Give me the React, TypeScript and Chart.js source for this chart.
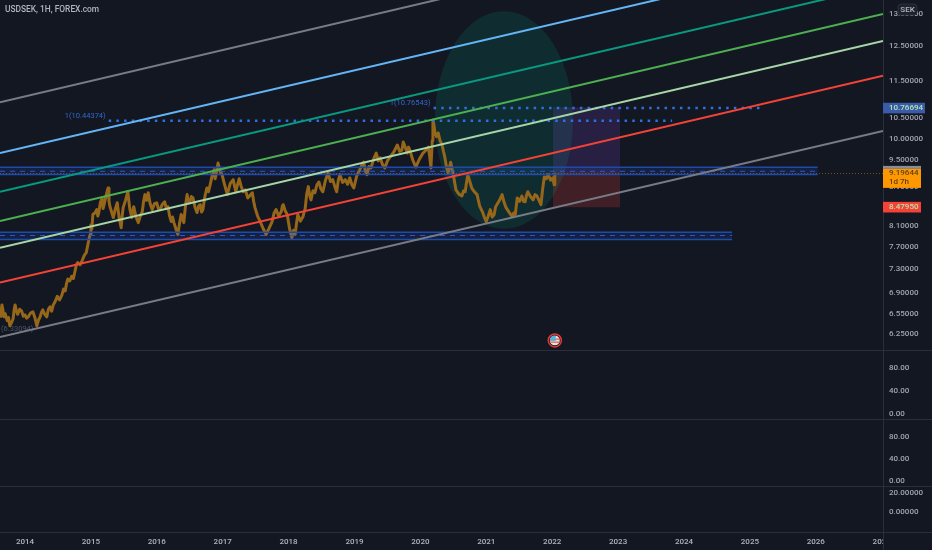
import React, { useEffect, useRef } from "react";
import { Chart, registerables } from "chart.js";

Chart.register(...registerables);

const FONT = "Roboto, sans-serif";
const BG = "#131722";
const AXIS_TEXT = "#a3a6af";
const PANE_LINE = "#2a2e39";

const X_MIN = 2013.621;
const X_MAX = 2027.02;

const yearTicks = [2014, 2015, 2016, 2017, 2018, 2019, 2020, 2021, 2022, 2023, 2024, 2025, 2026, 2027];
const priceTicks = [13.5, 12.5, 11.5, 10.5, 10, 9.5, 8.9, 8.5, 8.1, 7.7, 7.3, 6.9, 6.55, 6.25];
const osc1Ticks = [80, 40, 0];
const osc2Ticks = [80, 40, 0];
const osc3Ticks = [20, 0];

const priceYears = [
  2013.62, 2013.635, 2013.65, 2013.665, 2013.68, 2013.7, 2013.73, 2013.75, 2013.77, 2013.8,
  2013.82, 2013.835, 2013.85, 2013.87, 2013.89, 2013.92, 2013.95, 2013.975, 2014.0, 2014.025,
  2014.05, 2014.085, 2014.12, 2014.15, 2014.18, 2014.205, 2014.23, 2014.25, 2014.27, 2014.3,
  2014.33, 2014.355, 2014.38, 2014.405, 2014.43, 2014.46, 2014.49, 2014.525, 2014.56, 2014.585,
  2014.61, 2014.63, 2014.65, 2014.68, 2014.71, 2014.735, 2014.76, 2014.78, 2014.8, 2014.835,
  2014.87, 2014.9, 2014.93, 2014.95, 2014.97, 2014.98, 2014.99, 2015.0, 2015.015, 2015.03,
  2015.06, 2015.09, 2015.105, 2015.12, 2015.145, 2015.17, 2015.185, 2015.2, 2015.23, 2015.26,
  2015.275, 2015.29, 2015.315, 2015.34, 2015.37, 2015.4, 2015.43, 2015.46, 2015.475, 2015.49,
  2015.525, 2015.56, 2015.59, 2015.62, 2015.635, 2015.65, 2015.685, 2015.72, 2015.75, 2015.78,
  2015.8, 2015.82, 2015.845, 2015.87, 2015.9, 2015.93, 2015.965, 2016.0, 2016.025, 2016.05,
  2016.085, 2016.12, 2016.145, 2016.17, 2016.195, 2016.22, 2016.24, 2016.26, 2016.29, 2016.32,
  2016.345, 2016.37, 2016.39, 2016.41, 2016.435, 2016.46, 2016.48, 2016.5, 2016.525, 2016.55,
  2016.58, 2016.61, 2016.635, 2016.66, 2016.68, 2016.7, 2016.73, 2016.76, 2016.785, 2016.81,
  2016.84, 2016.87, 2016.885, 2016.9, 2016.915, 2016.93, 2016.96, 2016.99, 2017.03, 2017.07,
  2017.115, 2017.16, 2017.18, 2017.2, 2017.225, 2017.25, 2017.28, 2017.31, 2017.345, 2017.38,
  2017.415, 2017.45, 2017.47, 2017.49, 2017.53, 2017.57, 2017.615, 2017.66, 2017.705, 2017.75,
  2017.78, 2017.81, 2017.85, 2017.89, 2017.905, 2017.92, 2017.95, 2017.98, 2018.015, 2018.05,
  2018.075, 2018.1, 2018.12, 2018.14, 2018.18, 2018.22, 2018.235, 2018.25, 2018.275, 2018.3,
  2018.32, 2018.34, 2018.37, 2018.4, 2018.43, 2018.46, 2018.49, 2018.52, 2018.56, 2018.6,
  2018.635, 2018.67, 2018.7, 2018.73, 2018.755, 2018.78, 2018.82, 2018.86, 2018.895, 2018.93,
  2018.96, 2018.99, 2019.035, 2019.08, 2019.11, 2019.14, 2019.165, 2019.19, 2019.22, 2019.25,
  2019.29, 2019.33, 2019.36, 2019.39, 2019.425, 2019.46, 2019.5, 2019.54, 2019.595, 2019.65,
  2019.685, 2019.72, 2019.74, 2019.77, 2019.8, 2019.82, 2019.84, 2019.885, 2019.93, 2019.985,
  2020.04, 2020.08, 2020.12, 2020.14, 2020.16, 2020.18, 2020.19, 2020.205, 2020.22, 2020.245,
  2020.27, 2020.3, 2020.33, 2020.35, 2020.37, 2020.395, 2020.42, 2020.44, 2020.46, 2020.48,
  2020.5, 2020.52, 2020.54, 2020.585, 2020.63, 2020.655, 2020.68, 2020.7, 2020.72, 2020.75,
  2020.78, 2020.82, 2020.86, 2020.9, 2020.94, 2020.97, 2021.0, 2021.03, 2021.06, 2021.09,
  2021.12, 2021.14, 2021.16, 2021.2, 2021.24, 2021.27, 2021.3, 2021.345, 2021.39, 2021.415,
  2021.44, 2021.455, 2021.47, 2021.505, 2021.54, 2021.565, 2021.59, 2021.61, 2021.63, 2021.67,
  2021.71, 2021.74, 2021.77, 2021.8, 2021.83, 2021.855, 2021.88, 2021.91, 2021.94, 2021.975,
  2022.01, 2022.02, 2022.03, 2022.04,
];
const priceValues = [
  6.52, 6.58, 6.7, 6.62, 6.51, 6.56, 6.45, 6.5, 6.37, 6.43,
  6.48, 6.62, 6.7, 6.6, 6.55, 6.63, 6.6, 6.52, 6.54, 6.49,
  6.51, 6.57, 6.59, 6.5, 6.37, 6.46, 6.51, 6.58, 6.62, 6.55,
  6.51, 6.63, 6.67, 6.6, 6.7, 6.76, 6.84, 6.78, 6.86, 6.96,
  6.93, 7.05, 7.13, 7.1, 7.18, 7.14, 7.27, 7.38, 7.42, 7.38,
  7.46, 7.55, 7.6, 7.72, 7.84, 7.9, 7.94, 8.13, 8.05, 8.33,
  8.36, 8.43, 8.3, 8.37, 8.58, 8.67, 8.45, 8.53, 8.72, 8.88,
  8.6, 8.49, 8.38, 8.27, 8.44, 8.57, 8.25, 8.07, 8.3, 8.47,
  8.62, 8.8, 8.45, 8.27, 8.4, 8.49, 8.28, 8.17, 8.3, 8.39,
  8.6, 8.74, 8.62, 8.78, 8.55, 8.43, 8.55, 8.57, 8.44, 8.43,
  8.54, 8.59, 8.45, 8.49, 8.3, 8.19, 8.28, 8.17, 8.05, 7.94,
  8.15, 8.33, 8.25, 8.17, 8.5, 8.74, 8.58, 8.57, 8.7, 8.67,
  8.48, 8.37, 8.5, 8.53, 8.38, 8.43, 8.7, 8.88, 8.8, 8.95,
  9.15, 9.28, 9.08, 9.17, 9.3, 9.43, 9.25, 9.17, 8.95, 8.74,
  8.98, 9.06, 8.92, 8.8, 8.95, 9.08, 8.92, 8.8, 8.84, 8.67,
  8.72, 8.78, 8.6, 8.47, 8.3, 8.19, 8.05, 7.94, 8.06, 8.19,
  8.36, 8.43, 8.3, 8.39, 8.5, 8.53, 8.4, 8.33, 8.05, 7.88,
  8.02, 7.94, 8.15, 8.33, 8.2, 8.29, 8.38, 8.43, 8.75, 8.91,
  8.72, 8.63, 8.82, 8.78, 8.95, 9.01, 8.86, 8.8, 9.05, 9.21,
  9.02, 9.06, 8.92, 8.8, 9.05, 9.17, 9.0, 9.06, 8.96, 9.1,
  8.95, 8.88, 9.15, 9.28, 9.38, 9.45, 9.25, 9.17, 9.35, 9.32,
  9.52, 9.66, 9.48, 9.55, 9.4, 9.32, 9.48, 9.57, 9.68, 9.85,
  9.7, 9.73, 9.92, 9.8, 9.66, 9.8, 9.73, 9.5, 9.34, 9.52,
  9.66, 9.72, 9.8, 9.6, 9.32, 9.95, 10.46, 10.35, 10.16, 10.05,
  10.14, 9.95, 9.85, 9.7, 9.57, 9.35, 9.21, 9.32, 9.45, 9.3,
  9.17, 9.0, 8.84, 8.75, 8.71, 8.82, 8.8, 9.0, 9.17, 9.02,
  8.88, 8.8, 8.74, 8.5, 8.39, 8.28, 8.19, 8.3, 8.43, 8.28,
  8.33, 8.48, 8.53, 8.62, 8.74, 8.58, 8.47, 8.38, 8.29, 8.36,
  8.33, 8.5, 8.67, 8.6, 8.71, 8.6, 8.59, 8.72, 8.8, 8.7,
  8.63, 8.74, 8.71, 8.62, 8.53, 8.85, 9.12, 9.08, 9.17, 9.05,
  9.1, 9.02, 8.95, 9.2,
];

// Channel lines: price at the left and at the right edge of the plot
const channelNames = ["grey top", "light blue", "teal", "green", "light green", "red", "grey bottom"];
const channelLeft = [10.92, 9.66, 8.8, 8.2, 7.69, 7.07, 6.2];
const channelRight = [17.98, 15.87, 14.46, 13.51, 12.66, 11.64, 10.19];
const channelColors = ["#787b86", "#64b5f6", "#089981", "#4caf50", "#a5d6a7", "#f44336", "#787b86"];

// Support / resistance zones
const zoneEnds = [2026.03, 2024.73];
const zoneTops = [9.336, 7.98];
const zoneMids = [9.246, 7.92];
const zoneBottoms = [9.175, 7.844];

// Dotted levels
const levelStarts = [2015.27, 2020.2];
const levelEnds = [2023.82, 2025.2];
const levelValues = [10.44374, 10.7669];
const levelLabels = ["1(10.44374)", "1(10.76543)"];
const lowLabel = "(6.33094)";
const lowLabelPrice = 6.325;

const lastPrice = 9.19644;
const tagValues = [10.76694, 8.4795];
const tagColors = ["#3a5ca8", "#f44336"];

// Ellipse bounds
const ellipseYears = [2020.22, 2022.315];
const ellipsePrices = [13.6, 8.05];

// Risk/reward box
const boxYears = [2022.01, 2023.03];
const boxPrices = [10.79, 9.24, 8.48];

const flagYear = 2022.04;
const flagPrice = 6.15;

const seg = (x0: number, y0: number, x1: number, y1: number) => [
  { x: x0, y: y0 },
  { x: x1, y: y1 },
];

const overlays = {
  id: "overlays",
  beforeDraw(chart: any) {
    const { ctx, width, height } = chart;
    ctx.save();
    ctx.fillStyle = BG;
    ctx.fillRect(0, 0, width, height);
    ctx.restore();
  },
  beforeDatasetsDraw(chart: any) {
    const { ctx } = chart;
    const sx = chart.scales.x;
    const sy = chart.scales.y;
    ctx.save();
    ctx.beginPath();
    ctx.rect(sx.left, sy.top, sx.right - sx.left, sy.bottom - sy.top);
    ctx.clip();
    const x0 = sx.getPixelForValue(ellipseYears[0]);
    const x1 = sx.getPixelForValue(ellipseYears[1]);
    const y0 = sy.getPixelForValue(ellipsePrices[0]);
    const y1 = sy.getPixelForValue(ellipsePrices[1]);
    ctx.beginPath();
    ctx.ellipse((x0 + x1) / 2, (y0 + y1) / 2, (x1 - x0) / 2, (y1 - y0) / 2, 0, 0, Math.PI * 2);
    ctx.fillStyle = "rgba(0,150,115,0.18)";
    ctx.fill();
    ctx.font = `7.5px ${FONT}`;
    ctx.fillStyle = "#4a5568";
    ctx.textAlign = "left";
    ctx.textBaseline = "middle";
    ctx.fillText(lowLabel, 1, sy.getPixelForValue(lowLabelPrice));
    ctx.restore();
  },
  afterDatasetsDraw(chart: any) {
    const { ctx, width, height } = chart;
    const sx = chart.scales.x;
    const sy = chart.scales.y;
    ctx.save();
    // price-axis panel covers whatever spills past the plot
    ctx.fillStyle = BG;
    ctx.fillRect(sx.right, 0, width - sx.right, height);
    // pane separators
    ctx.strokeStyle = PANE_LINE;
    ctx.lineWidth = 1;
    ctx.beginPath();
    ["y", "y2", "y3", "y4"].forEach((id) => {
      const b = Math.round(chart.scales[id].bottom) + 0.5;
      ctx.moveTo(0, b);
      ctx.lineTo(width, b);
    });
    const r = Math.round(sx.right) + 0.5;
    ctx.moveTo(r, 0);
    ctx.lineTo(r, height);
    ctx.stroke();
    // level labels
    ctx.font = `7.5px ${FONT}`;
    ctx.fillStyle = "#3468cc";
    ctx.textAlign = "right";
    ctx.textBaseline = "alphabetic";
    levelLabels.forEach((t, i) => {
      ctx.fillText(t, sx.getPixelForValue(levelStarts[i]) - 3, sy.getPixelForValue(levelValues[i]) - 3);
    });
    // title
    ctx.font = `500 8.4px ${FONT}`;
    ctx.fillStyle = "#b2b5be";
    ctx.textAlign = "left";
    ctx.textBaseline = "middle";
    ctx.fillText("USDSEK, 1H, FOREX.com", 5, 10);
    // event flag
    const fx = sx.getPixelForValue(flagYear);
    const fy = sy.getPixelForValue(flagPrice);
    ctx.beginPath();
    ctx.arc(fx, fy, 6.5, 0, Math.PI * 2);
    ctx.fillStyle = BG;
    ctx.fill();
    ctx.lineWidth = 1.5;
    ctx.strokeStyle = "#e53935";
    ctx.stroke();
    ctx.save();
    ctx.beginPath();
    ctx.arc(fx, fy, 5, 0, Math.PI * 2);
    ctx.clip();
    ctx.fillStyle = "#e9e3d8";
    ctx.fillRect(fx - 5, fy - 5, 10, 10);
    ctx.fillStyle = "#e57368";
    ctx.fillRect(fx - 5, fy + 1, 10, 1.5);
    ctx.fillRect(fx, fy - 2, 5, 1.5);
    ctx.fillStyle = "#5ab0d8";
    ctx.fillRect(fx - 5, fy - 5, 6, 5.5);
    ctx.restore();
    ctx.restore();
  },
  afterDraw(chart: any) {
    const { ctx } = chart;
    const sy = chart.scales.y;
    const left = chart.scales.x.right;
    ctx.save();
    ctx.textAlign = "left";
    ctx.textBaseline = "middle";
    ctx.font = `500 8px ${FONT}`;
    tagValues.forEach((v, i) => {
      const y = sy.getPixelForValue(v);
      ctx.fillStyle = tagColors[i];
      ctx.fillRect(left, y - 5.3, i === 0 ? 42 : 38, 10.6);
      ctx.fillStyle = "#b5e3ad";
      ctx.fillText(v.toFixed(5), left + 6, y + 0.3);
    });
    const y = sy.getPixelForValue(lastPrice);
    ctx.fillStyle = "#8a8d94";
    ctx.fillRect(left, y - 7.6, 38, 3);
    ctx.fillStyle = "#ff9800";
    ctx.fillRect(left, y - 4.6, 38, 19);
    ctx.fillStyle = "#5d4212";
    ctx.fillText(lastPrice.toFixed(5), left + 6, y);
    ctx.fillText("1d 7h", left + 6, y + 9);
    // currency badge
    ctx.beginPath();
    ctx.roundRect(898, 4, 19, 11, 3);
    ctx.fillStyle = "#1e222d";
    ctx.fill();
    ctx.strokeStyle = "#2a2e39";
    ctx.lineWidth = 1;
    ctx.stroke();
    ctx.fillStyle = "#b2b5be";
    ctx.textAlign = "center";
    ctx.fillText("SEK", 907.5, 10);
    ctx.restore();
  },
};

const yAxis = (
  type: string,
  min: number,
  max: number,
  weight: number,
  order: number,
  tickValues: number[],
  digits: number
) => ({
  type,
  axis: "y",
  position: "right",
  stack: "panes",
  stackWeight: weight,
  weight: order,
  min,
  max,
  grid: { display: false, drawTicks: false },
  border: { display: false },
  afterFit: (s: any) => {
    s.width = 49;
    s.paddingTop = 0;
    s.paddingBottom = 0;
  },
  afterBuildTicks: (s: any) => {
    s.ticks = tickValues.map((value) => ({ value }));
  },
  ticks: {
    z: 1,
    padding: 6,
    autoSkip: false,
    maxRotation: 0,
    color: AXIS_TEXT,
    font: { family: FONT, size: 8, weight: "500" },
    callback: (v: number) => Number(v).toFixed(digits),
  },
});

export default function App() {
  const ref = useRef<HTMLCanvasElement>(null);
  useEffect(() => {
    document.body.style.margin = "0";
    document.body.style.background = BG;
    const price = priceYears.map((x, i) => ({ x, y: priceValues[i] }));
    const datasets: any[] = [];
    const base = { pointRadius: 0, tension: 0, fill: false, xAxisID: "x", yAxisID: "y" };

    channelNames.forEach((label, i) => {
      datasets.push({
        ...base,
        label,
        data: seg(X_MIN, channelLeft[i], X_MAX, channelRight[i]),
        borderColor: channelColors[i],
        borderWidth: 2,
        order: 1,
      });
    });
    levelValues.forEach((v, i) => {
      datasets.push({
        ...base,
        label: levelLabels[i],
        data: seg(levelStarts[i], v, levelEnds[i], v),
        borderColor: "#2f6fe0",
        borderWidth: 2.5,
        borderDash: [2.5, 5.2],
        order: 2,
      });
    });
    zoneTops.forEach((top, i) => {
      datasets.push({
        ...base,
        label: `zone ${i} top`,
        data: seg(X_MIN, top, zoneEnds[i], top),
        borderColor: "#1f4aa8",
        borderWidth: 1.5,
        fill: { value: zoneBottoms[i] },
        backgroundColor: "rgba(41,98,255,0.13)",
        order: 3,
      });
      datasets.push({
        ...base,
        label: `zone ${i} bottom`,
        data: seg(X_MIN, zoneBottoms[i], zoneEnds[i], zoneBottoms[i]),
        borderColor: "#1f4aa8",
        borderWidth: 1.5,
        order: 3,
      });
      datasets.push({
        ...base,
        label: `zone ${i} mid`,
        data: seg(X_MIN, zoneMids[i], zoneEnds[i], zoneMids[i]),
        borderColor: "#2a5ac8",
        borderWidth: 1,
        borderDash: [5, 5],
        order: 3,
      });
    });
    datasets.push({
      ...base,
      label: "last price",
      data: seg(X_MIN, lastPrice, X_MAX, lastPrice),
      borderColor: "rgba(255,152,0,0.45)",
      borderWidth: 1,
      borderDash: [1, 2],
      order: 3,
    });
    datasets.push({
      ...base,
      label: "USDSEK",
      data: price,
      borderColor: "#966619",
      borderWidth: 3,
      borderJoinStyle: "round",
      order: 4,
    });
    datasets.push({
      ...base,
      label: "target",
      data: seg(boxYears[0], boxPrices[0], boxYears[1], boxPrices[0]),
      borderWidth: 0,
      borderColor: "transparent",
      fill: { value: boxPrices[1] },
      backgroundColor: "rgba(120,70,200,0.2)",
      order: 5,
    });
    datasets.push({
      ...base,
      label: "stop",
      data: seg(boxYears[0], boxPrices[1], boxYears[1], boxPrices[1]),
      borderWidth: 0,
      borderColor: "transparent",
      fill: { value: boxPrices[2] },
      backgroundColor: "rgba(244,67,54,0.2)",
      order: 5,
    });

    const chart = new Chart(ref.current as HTMLCanvasElement, {
      type: "line",
      data: { datasets },
      plugins: [overlays],
      options: {
        animation: false,
        responsive: false,
        devicePixelRatio: 1,
        layout: { padding: 0 },
        plugins: { legend: { display: false }, tooltip: { enabled: false }, title: { display: false } },
        scales: {
          x: {
            type: "linear",
            position: "bottom",
            min: X_MIN,
            max: X_MAX,
            grid: { display: false, drawTicks: false },
            border: { display: false },
            afterFit: (s: any) => {
              s.height = 18;
              s.paddingLeft = 0;
              s.paddingRight = 0;
            },
            afterBuildTicks: (s: any) => {
              s.ticks = yearTicks.map((value) => ({ value }));
            },
            ticks: {
              padding: 5,
              autoSkip: false,
              maxRotation: 0,
              color: "#b2b5be",
              font: { family: FONT, size: 8, weight: "500" },
              callback: (v: number) => String(v),
            },
          },
          y: yAxis("logarithmic", 6.01, 13.97, 350, 1, priceTicks, 5),
          y2: yAxis("linear", -9.4, 112.3, 69, 2, osc1Ticks, 2),
          y3: yAxis("linear", -9.6, 112.2, 67, 3, osc2Ticks, 2),
          y4: yAxis("linear", -20.7, 27, 46, 4, osc3Ticks, 5),
        },
      } as any,
    });
    return () => chart.destroy();
  }, []);
  return <canvas ref={ref} width={932} height={550} style={{ display: "block" }} />;
}
